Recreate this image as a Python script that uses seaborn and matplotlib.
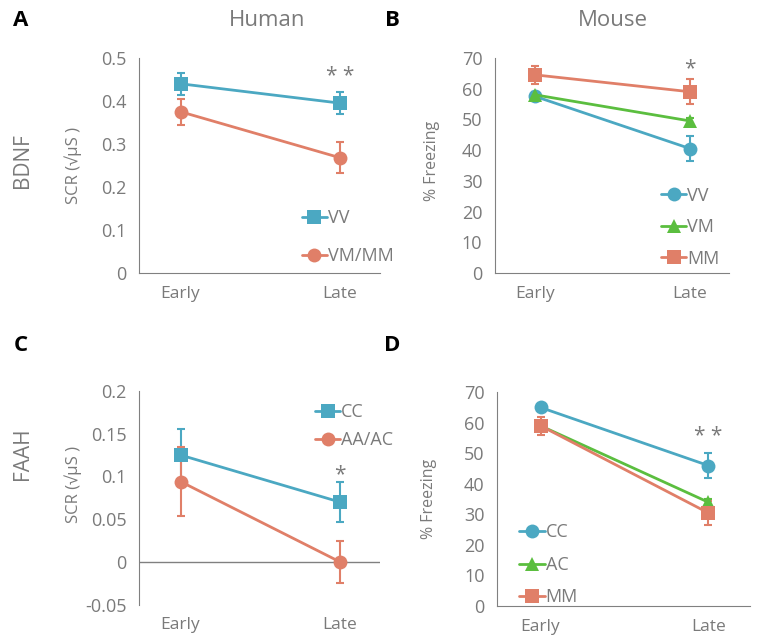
import numpy as np
import pandas as pd
import matplotlib
matplotlib.use("Agg")
import matplotlib.pyplot as plt
import seaborn as sns

# phases on the x axis
phases = ["Early", "Late"]

# A - Human BDNF (SCR)
a_groups = ["VV", "VM/MM"]
a_vv = [0.44, 0.395]
a_vv_err = [0.025, 0.025]
a_vm = [0.375, 0.268]
a_vm_err = [0.03, 0.036]

# B - Mouse BDNF (% freezing)
b_groups = ["VV", "VM", "MM"]
b_vv = [57.5, 40.5]
b_vv_err = [1.5, 4.0]
b_vm = [58.0, 49.5]
b_vm_err = [1.0, 1.0]
b_mm = [64.5, 59.0]
b_mm_err = [3.0, 4.0]

# C - Human FAAH (SCR)
c_groups = ["CC", "AA/AC"]
c_cc = [0.125, 0.07]
c_cc_err = [0.031, 0.023]
c_aa = [0.094, 0.0]
c_aa_err = [0.04, 0.025]

# D - Mouse FAAH (% freezing)
d_groups = ["CC", "AC", "MM"]
d_cc = [65.0, 46.0]
d_cc_err = [1.0, 4.0]
d_ac = [59.0, 34.0]
d_ac_err = [1.0, 1.0]
d_mm = [59.0, 30.5]
d_mm_err = [3.0, 4.0]

TEAL = "#4BA8C2"
ORANGE = "#E07F68"
GREEN = "#5BBE3F"
GREY = "#808080"
TXT = "#7a7a7a"


def make_df(groups, vals, errs):
    rows = []
    for g, v, e in zip(groups, vals, errs):
        for i, p in enumerate(phases):
            rows.append({"group": g, "x": i, "y": v[i], "err": e[i]})
    return pd.DataFrame(rows)


def panel(ax, df, colors, markers, ylim, yticks, ytick_labels, ylabel, ylabel_size,
          ylabel_y, legend_loc, zero_line=False):
    sns.lineplot(data=df, x="x", y="y", hue="group", style="group",
                 palette=colors, markers=markers, dashes=False, linewidth=2.0,
                 markersize=10, markeredgewidth=0, ax=ax, legend=True)
    for g, c in colors.items():
        sub = df[df["group"] == g]
        ax.errorbar(sub["x"], sub["y"], yerr=sub["err"], fmt="none", ecolor=c,
                    elinewidth=1.5, capsize=3, capthick=1.5, zorder=1)
    ax.set_xlim(-0.26, 1.25)
    ax.set_ylim(*ylim)
    ax.set_xticks([0, 1])
    ax.set_xticklabels(phases)
    ax.set_yticks(yticks)
    ax.set_yticklabels(ytick_labels)
    ax.tick_params(axis="x", length=0, pad=9, labelsize=12.5, labelcolor=TXT)
    ax.tick_params(axis="y", length=5, width=1, color=GREY, pad=4, labelsize=13,
                   labelcolor=TXT)
    ax.set_xlabel("")
    ax.set_ylabel(ylabel, fontsize=ylabel_size, color=TXT)
    ax.yaxis.set_label_coords(-0.236, ylabel_y)
    for s in ["top", "right"]:
        ax.spines[s].set_visible(False)
    ax.spines["left"].set_color(GREY)
    ax.spines["bottom"].set_color(GREY)
    if zero_line:
        ax.spines["bottom"].set_visible(False)
        ax.axhline(0, color=GREY, linewidth=1, zorder=0)
    ax.set_facecolor("white")
    leg = ax.legend(loc=legend_loc[0], bbox_to_anchor=legend_loc[1], frameon=False,
                    fontsize=13, handlelength=1.4, handletextpad=0.05,
                    labelspacing=legend_loc[2], borderaxespad=0)
    for t in leg.get_texts():
        t.set_color(TXT)


sns.set_style("white")
plt.rcParams["font.family"] = ["Open Sans", "DejaVu Sans"]

fig = plt.figure(figsize=(7.6, 6.44), dpi=100)
fig.patch.set_facecolor("white")

axA = fig.add_axes([0.183, 0.576, 0.317, 0.334])
axB = fig.add_axes([0.651, 0.576, 0.308, 0.334])
axC = fig.add_axes([0.183, 0.061, 0.317, 0.332])
axD = fig.add_axes([0.654, 0.059, 0.333, 0.332])

dfA = make_df(a_groups, [a_vv, a_vm], [a_vv_err, a_vm_err])
panel(axA, dfA, {"VV": TEAL, "VM/MM": ORANGE}, {"VV": "s", "VM/MM": "o"},
      (0, 0.5), [0, 0.1, 0.2, 0.3, 0.4, 0.5], ["0", "0.1", "0.2", "0.3", "0.4", "0.5"],
      "SCR (√μS )", 12, 0.5, ("upper left", (0.645, 0.33), 1.1))

dfB = make_df(b_groups, [b_vv, b_vm, b_mm], [b_vv_err, b_vm_err, b_mm_err])
panel(axB, dfB, {"VV": TEAL, "VM": GREEN, "MM": ORANGE}, {"VV": "o", "VM": "^", "MM": "s"},
      (0, 70), list(range(0, 80, 10)), [str(v) for v in range(0, 80, 10)],
      "% Freezing", 11.5, 0.52, ("upper left", (0.68, 0.435), 0.75))

dfC = make_df(c_groups, [c_cc, c_aa], [c_cc_err, c_aa_err])
panel(axC, dfC, {"CC": TEAL, "AA/AC": ORANGE}, {"CC": "s", "AA/AC": "o"},
      (-0.05, 0.2), [-0.05, 0, 0.05, 0.1, 0.15, 0.2],
      ["-0.05", "0", "0.05", "0.1", "0.15", "0.2"],
      "SCR (√μS )", 12, 0.56, ("upper left", (0.70, 0.975), 0.55), zero_line=True)

dfD = make_df(d_groups, [d_cc, d_ac, d_mm], [d_cc_err, d_ac_err, d_mm_err])
panel(axD, dfD, {"CC": TEAL, "AC": GREEN, "MM": ORANGE}, {"CC": "o", "AC": "^", "MM": "s"},
      (0, 70), list(range(0, 80, 10)), [str(v) for v in range(0, 80, 10)],
      "% Freezing", 11.5, 0.5, ("upper left", (0.06, 0.42), 0.8))

# significance stars
axA.text(1, 0.456, "* *", ha="center", va="center", fontsize=15, color=TXT)
axB.text(1, 66.5, "*", ha="center", va="center", fontsize=15, color=TXT)
axC.text(1, 0.102, "*", ha="center", va="center", fontsize=15, color=TXT)
axD.text(1, 55.5, "* *", ha="center", va="center", fontsize=15, color=TXT)

# panel letters, column and row titles
for lbl, x, y in [("A", 0.027, 0.968), ("B", 0.516, 0.968),
                  ("C", 0.027, 0.464), ("D", 0.516, 0.464)]:
    fig.text(x, y, lbl, fontsize=16, fontweight="bold", color="black",
             ha="center", va="center")
fig.text(0.352, 0.968, "Human", fontsize=16, color=TXT, ha="center", va="center")
fig.text(0.807, 0.968, "Mouse", fontsize=16, color=TXT, ha="center", va="center")
fig.text(0.029, 0.751, "BDNF", fontsize=15, color=TXT, rotation=90,
         ha="center", va="center")
fig.text(0.029, 0.296, "FAAH", fontsize=15, color=TXT, rotation=90,
         ha="center", va="center")

fig.savefig("out.png", dpi=100, facecolor="white")
